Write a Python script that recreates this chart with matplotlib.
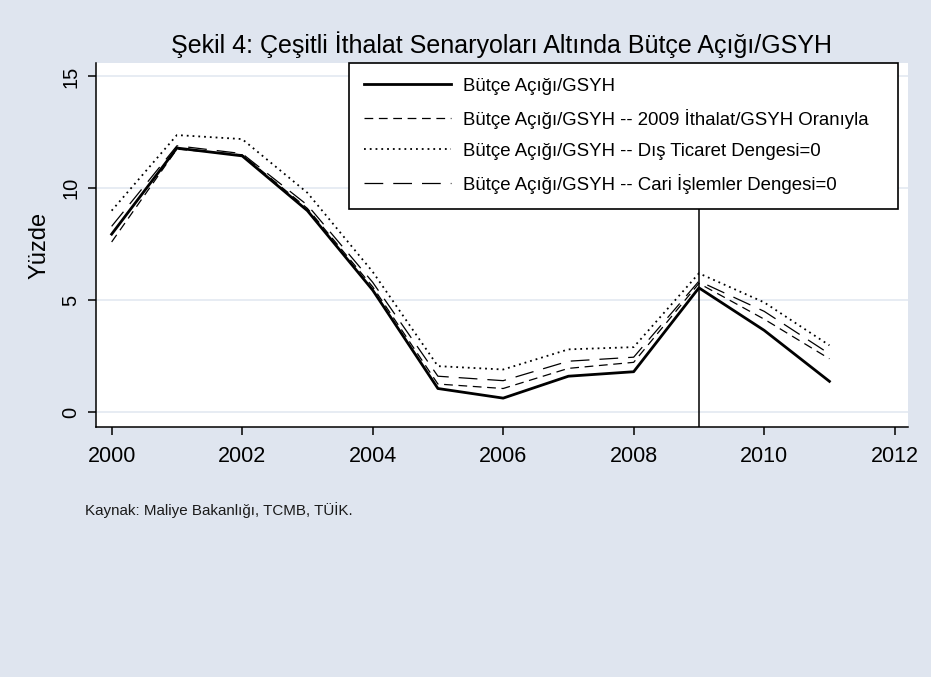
import matplotlib.pyplot as plt
import numpy as np

plt.rcParams['font.family'] = ['Liberation Sans', 'DejaVu Sans']

# Data
years = [2000, 2001, 2002, 2003, 2004, 2005, 2006, 2007, 2008, 2009, 2010, 2011]
butce = [7.95, 11.8, 11.45, 9.0, 5.45, 1.05, 0.62, 1.6, 1.8, 5.55, 3.65, 1.37]
ithalat_2009 = [7.6, 11.75, 11.5, 9.1, 5.6, 1.25, 1.05, 1.95, 2.22, 5.75, 4.15, 2.38]
dis_ticaret = [9.0, 12.38, 12.2, 9.8, 6.27, 2.05, 1.9, 2.8, 2.9, 6.2, 4.9, 2.98]
cari_islemler = [8.3, 11.9, 11.55, 9.25, 5.8, 1.6, 1.4, 2.27, 2.45, 5.85, 4.5, 2.6]

labels = ['Bütçe Açığı/GSYH',
          'Bütçe Açığı/GSYH -- 2009 İthalat/GSYH Oranıyla',
          'Bütçe Açığı/GSYH -- Dış Ticaret Dengesi=0',
          'Bütçe Açığı/GSYH -- Cari İşlemler Dengesi=0']

bg = '#dfe5ef'
grid_col = '#e3e9f1'

fig = plt.figure(figsize=(9.31, 6.77), dpi=100, facecolor=bg)
ax = fig.add_axes([0.1031, 0.3693, 0.8719, 0.5376])
ax.set_facecolor('white')

ax.plot(years, butce, color='black', lw=2.0, label=labels[0], zorder=5)
ax.plot(years, ithalat_2009, color='black', lw=0.9, dashes=(7, 4.5), label=labels[1], zorder=4)
ax.plot(years, dis_ticaret, color='black', lw=1.3, linestyle=(0, (1, 2.2)), label=labels[2], zorder=4)
ax.plot(years, cari_islemler, color='black', lw=0.9, dashes=(15, 8), label=labels[3], zorder=4)

ax.axvline(2009, color='black', lw=1.1, zorder=3)

ax.set_xlim(1999.76, 2012.2)
ax.set_ylim(-0.67, 15.6)
ax.set_xticks(range(2000, 2013, 2))
ax.set_yticks([0, 5, 10, 15])
ax.yaxis.grid(True, color=grid_col, lw=1.2)
ax.set_axisbelow(True)

for s in ['top', 'right']:
    ax.spines[s].set_visible(False)
for s in ['left', 'bottom']:
    ax.spines[s].set_color('black')
    ax.spines[s].set_linewidth(1.1)

ax.tick_params(axis='both', direction='out', length=6, width=1.1, colors='black')
ax.tick_params(axis='x', labelsize=15.5, pad=8)
ax.tick_params(axis='y', labelsize=14.5, pad=5)
for lab in ax.get_yticklabels():
    lab.set_rotation(90)
    lab.set_va('center')

ax.set_ylabel('Yüzde', fontsize=17, labelpad=8)
ax.set_title('Şekil 4: Çeşitli İthalat Senaryoları Altında Bütçe Açığı/GSYH',
             fontsize=18, pad=7)

leg = ax.legend(loc='upper left', bbox_to_anchor=(0.3117, 0.607, 0.676, 0.393),
                mode='expand', borderaxespad=0, fontsize=13.4, handlelength=4.7,
                handletextpad=0.6, labelspacing=0.75, borderpad=0.8,
                fancybox=False, framealpha=1, edgecolor='black')
leg.get_frame().set_linewidth(1.2)
leg.set_zorder(10)

fig.text(0.0913, 0.247, 'Kaynak: Maliye Bakanlığı, TCMB, TÜİK.', fontsize=10.9,
         color='#1a1a1a', va='center')

fig.savefig('out.png', dpi=100, facecolor=bg)
